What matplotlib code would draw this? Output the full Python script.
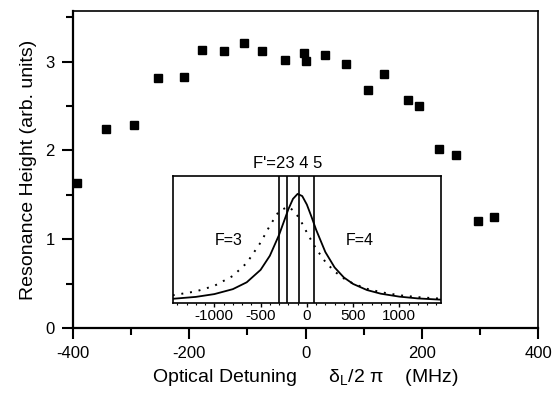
import numpy as np
import matplotlib
matplotlib.use('Agg')
import matplotlib.pyplot as plt
from matplotlib.ticker import MultipleLocator

plt.rcParams['font.family'] = ['Liberation Sans', 'DejaVu Sans']
plt.rcParams['mathtext.fontset'] = 'custom'
plt.rcParams['mathtext.rm'] = 'Liberation Sans'
plt.rcParams['mathtext.it'] = 'Liberation Sans:italic'
plt.rcParams['axes.unicode_minus'] = False

# measured resonance heights
detuning = [-393, -343, -295, -253, -208, -178, -140, -106, -74, -35,
            -3, 1, 33, 69, 108, 135, 176, 195, 229, 258, 297, 324]
height = [1.63, 2.24, 2.29, 2.82, 2.83, 3.13, 3.12, 3.21, 3.12, 3.02,
          3.10, 3.01, 3.07, 2.97, 2.68, 2.86, 2.57, 2.50, 2.02, 1.95, 1.20, 1.25]

# inset: line shapes
inset_x = [-1450, -1200, -1000, -800, -650, -500, -400, -300, -200, -150, -100,
           -50, 0, 50, 100, 200, 300, 400, 500, 650, 800, 1000, 1200, 1450]
solid_y = [0.033, 0.048, 0.070, 0.109, 0.163, 0.261, 0.372, 0.537, 0.738, 0.820,
           0.859, 0.842, 0.775, 0.679, 0.577, 0.401, 0.280, 0.201, 0.150, 0.102,
           0.073, 0.050, 0.036, 0.026]
dotted_y = [0.061, 0.091, 0.135, 0.213, 0.315, 0.476, 0.609, 0.725, 0.758, 0.730,
            0.685, 0.625, 0.555, 0.490, 0.427, 0.324, 0.248, 0.193, 0.153, 0.112,
            0.085, 0.061, 0.046, 0.034]
hyperfine = [-298, -215, -82, 74]   # F'=2,3,4,5

fig = plt.figure(figsize=(5.52, 3.97), dpi=100)
ax = fig.add_axes([0.1317, 0.1738, 0.8435, 0.7985])

ax.plot(detuning, height, 's', color='black', ms=5.3, clip_on=False)

ax.set_xlim(-400, 400)
ax.set_ylim(0, 3.57)
ax.xaxis.set_major_locator(MultipleLocator(200))
ax.xaxis.set_minor_locator(MultipleLocator(100))
ax.yaxis.set_major_locator(MultipleLocator(1))
ax.yaxis.set_minor_locator(MultipleLocator(0.5))
ax.tick_params(which='major', direction='out', length=8, width=1.5, labelsize=12, pad=5)
ax.tick_params(which='minor', direction='out', length=5, width=1.5)
ax.tick_params(top=False, right=False, which='both')
for s in ['left', 'bottom']:
    ax.spines[s].set_linewidth(1.6)
for s in ['right', 'top']:
    ax.spines[s].set_linewidth(1.2)

ax.set_xlabel('Optical Detuning      δ$_{\\rm L}$/2 π    (MHz)', fontsize=14, labelpad=4)
ax.set_ylabel('Resonance Height (arb. units)', fontsize=14, labelpad=6)

# inset
ins = fig.add_axes([0.3129, 0.2368, 0.4860, 0.3199])
ins.plot(inset_x, solid_y, '-', color='black', lw=1.3)
ins.plot(inset_x, dotted_y, color='black', lw=1.4, linestyle=(0, (1, 3.5)))
for h in hyperfine:
    ins.axvline(h, color='black', lw=1.2)
ins.set_xlim(-1450, 1450)
ins.set_ylim(0, 1)
ins.set_yticks([])
ins.xaxis.set_major_locator(MultipleLocator(500))
ins.xaxis.set_minor_locator(MultipleLocator(100))
ins.tick_params(which='major', direction='out', length=3, width=1, labelsize=11, pad=1.5)
ins.tick_params(which='minor', direction='out', length=1.5, width=0.8)
for s in ins.spines.values():
    s.set_linewidth(1.2)
ins.text(-850, 0.49, 'F=3', fontsize=11.5, ha='center', va='center')
ins.text(570, 0.49, 'F=4', fontsize=11.5, ha='center', va='center')
ins.text(-210, 1.04, "F'=23 4 5", fontsize=12, ha='center', va='bottom')

fig.savefig('out.png', dpi=100)
